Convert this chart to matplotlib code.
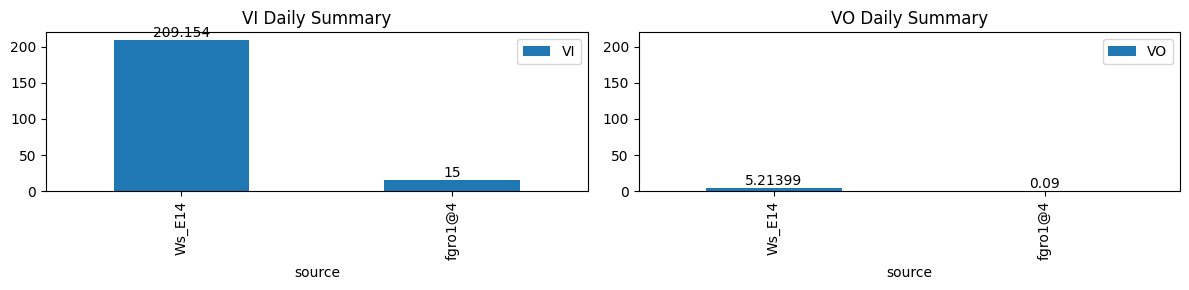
import pandas as pd
import matplotlib.pyplot as plt

sources = ['Ws_E14', 'fgro1@4']
vi_values = [209.154, 15]
vo_values = [5.21399, 0.09]

df = pd.DataFrame({'source': sources, 'VI': vi_values, 'VO': vo_values}).set_index('source')

fig, axes = plt.subplots(1, 2, figsize=(12, 3), dpi=100, sharey=True)

for ax, col in zip(axes, ['VI', 'VO']):
    df[[col]].plot.bar(ax=ax)
    ax.set_title(f'{col} Daily Summary')
    for c in ax.containers:
        ax.bar_label(c)
    ax.tick_params(labelleft=True)

plt.tight_layout()
plt.savefig('out.png', bbox_inches='tight')
